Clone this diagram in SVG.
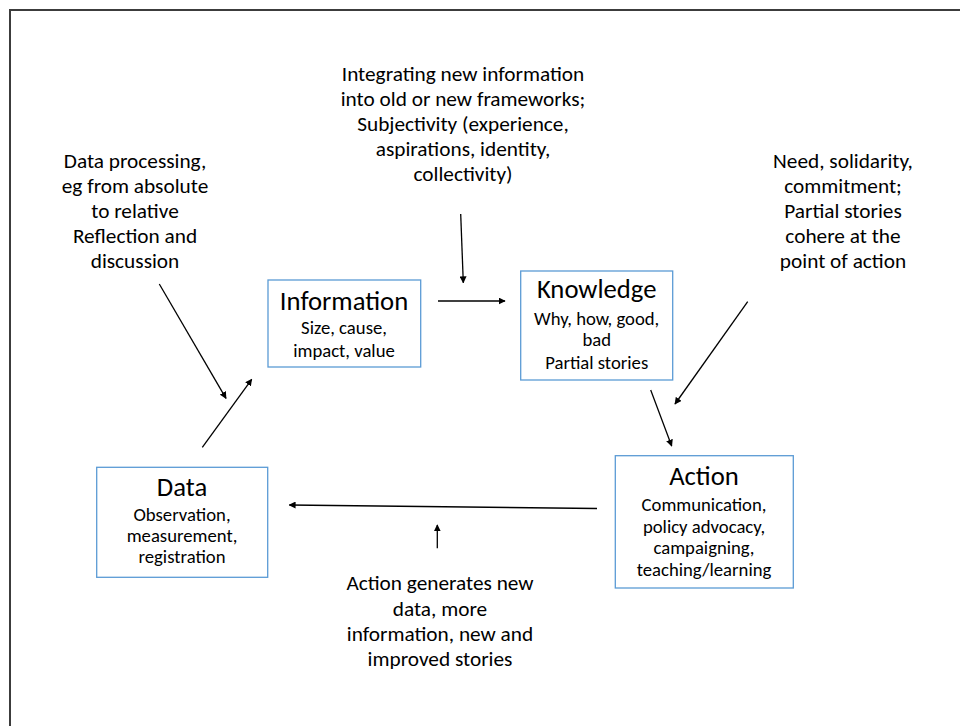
<svg xmlns="http://www.w3.org/2000/svg" width="960" height="726" viewBox="0 0 960 726">
  <style>
    text { font-family: Carlito, "Liberation Sans", sans-serif; fill: #000; text-anchor: middle; }
    .title { font-size: 26.7px; }
    .sub { font-size: 18.7px; }
    .note { font-size: 21.3px; }
    .box { fill: #fff; stroke: #5b9bd5; stroke-width: 1.3; }
    .conn { stroke: #000; stroke-width: 1.3; fill: none; marker-end: url(#arrow); }
  </style>
  <defs>
    <marker id="arrow" viewBox="0 0 10 10" refX="9" refY="5" markerWidth="7" markerHeight="7" markerUnits="userSpaceOnUse" orient="auto">
      <path d="M0,0 L10,5 L0,10 z" fill="#000"/>
    </marker>
  </defs>
  <rect width="960" height="726" fill="#fff"/>
  <!-- outer frame -->
  <rect x="10" y="10" width="1000" height="800" fill="none" stroke="#3c3c3c" stroke-width="2"/>

  <g id="connectors">
    <line class="conn" x1="460.7" y1="214" x2="463.3" y2="282.7"/>
    <line class="conn" x1="438" y1="301" x2="505" y2="301"/>
    <line class="conn" x1="159.3" y1="284" x2="226" y2="398.3"/>
    <line class="conn" x1="202.3" y1="447.3" x2="251.7" y2="379.3"/>
    <line class="conn" x1="650.7" y1="390" x2="671.7" y2="446"/>
    <line class="conn" x1="747.7" y1="301.7" x2="675" y2="404"/>
    <line class="conn" x1="597" y1="508.5" x2="289.3" y2="505"/>
    <line class="conn" x1="437.3" y1="548.3" x2="437.3" y2="525"/>
  </g>

  <g id="information">
    <rect class="box" x="268" y="280" width="152.7" height="87"/>
    <text class="title" x="344" y="309.5">Information</text>
    <text class="sub" x="344" y="334">Size, cause,</text>
    <text class="sub" x="344" y="357">impact, value</text>
  </g>

  <g id="knowledge">
    <rect class="box" x="520.7" y="271" width="152" height="109"/>
    <text class="title" x="596.7" y="298.3">Knowledge</text>
    <text class="sub" x="596.7" y="325">Why, how, good,</text>
    <text class="sub" x="596.7" y="346">bad</text>
    <text class="sub" x="596.7" y="369">Partial stories</text>
  </g>

  <g id="data">
    <rect class="box" x="96.7" y="467.3" width="171" height="110"/>
    <text class="title" x="182" y="496">Data</text>
    <text class="sub" x="182" y="521">Observation,</text>
    <text class="sub" x="182" y="542">measurement,</text>
    <text class="sub" x="182" y="563">registration</text>
  </g>

  <g id="action">
    <rect class="box" x="615.3" y="455.7" width="178" height="132.3"/>
    <text class="title" x="704" y="485">Action</text>
    <text class="sub" x="704" y="511">Communication,</text>
    <text class="sub" x="704" y="533">policy advocacy,</text>
    <text class="sub" x="704" y="554">campaigning,</text>
    <text class="sub" x="704" y="576">teaching/learning</text>
  </g>

  <g id="note-integrating">
    <text class="note" x="463" y="81">Integrating new information</text>
    <text class="note" x="463" y="106">into old or new frameworks;</text>
    <text class="note" x="463" y="131">Subjectivity (experience,</text>
    <text class="note" x="463" y="156">aspirations, identity,</text>
    <text class="note" x="463" y="181">collectivity)</text>
  </g>

  <g id="note-processing">
    <text class="note" x="135" y="168">Data processing,</text>
    <text class="note" x="135" y="193">eg from absolute</text>
    <text class="note" x="135" y="218">to relative</text>
    <text class="note" x="135" y="243">Reflection and</text>
    <text class="note" x="135" y="268">discussion</text>
  </g>

  <g id="note-need">
    <text class="note" x="843" y="168">Need, solidarity,</text>
    <text class="note" x="843" y="193">commitment;</text>
    <text class="note" x="843" y="218">Partial stories</text>
    <text class="note" x="843" y="243">cohere at the</text>
    <text class="note" x="843" y="268">point of action</text>
  </g>

  <g id="note-generates">
    <text class="note" x="440" y="590">Action generates new</text>
    <text class="note" x="440" y="616">data, more</text>
    <text class="note" x="440" y="641">information, new and</text>
    <text class="note" x="440" y="666">improved stories</text>
  </g>
</svg>
